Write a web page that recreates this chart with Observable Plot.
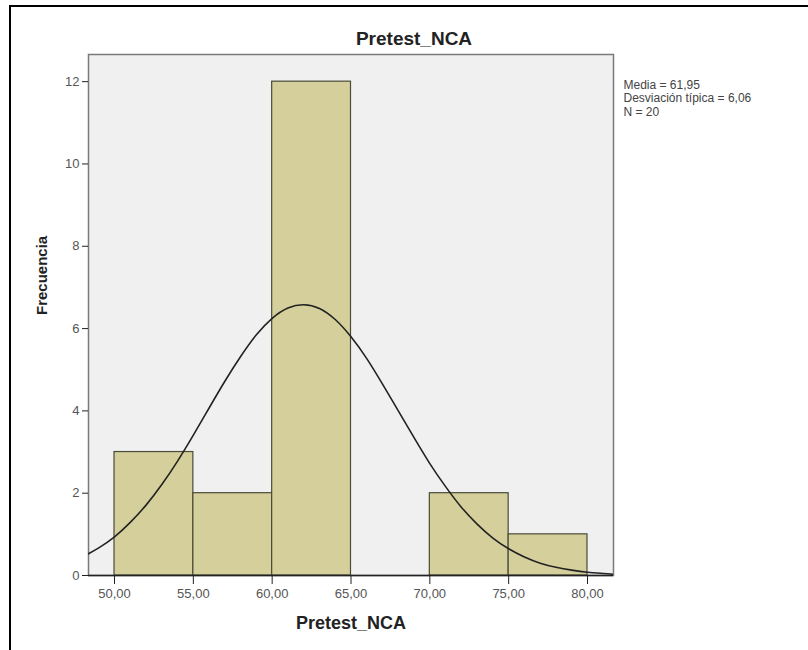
<!DOCTYPE html>
<html>
<head>
<meta charset="utf-8">
<script src="https://cdn.jsdelivr.net/npm/d3@7"></script>
<script src="https://cdn.jsdelivr.net/npm/@observablehq/plot@0.6"></script>
<style>
  html, body { margin: 0; padding: 0; background: #fff; overflow: hidden; }
  #wrap { position: relative; width: 808px; height: 650px; }
  #border { position: absolute; left: 9px; top: 5px; width: 900px; height: 900px;
            border-top: 2px solid #000; border-left: 2px solid #000; pointer-events: none; }
</style>
</head>
<body>
<div id="wrap"><div id="border"></div></div>
<script>
// Histogram bins (Pretest_NCA)
const binStart = [50, 55, 60, 65, 70, 75];
const binEnd   = [55, 60, 65, 70, 75, 80];
const freq     = [3, 2, 12, 0, 2, 1];

// Normal curve
const curveX = [48.35, 49, 50, 51, 52, 53, 54, 55, 56, 57, 58, 59, 60, 61, 62, 63, 64, 65, 66, 67, 68, 69, 70, 71, 72, 73, 74, 75, 76, 77, 78, 79, 80, 81, 81.65];
const curveY = [0.53, 0.67, 0.94, 1.29, 1.71, 2.21, 2.78, 3.41, 4.07, 4.72, 5.32, 5.85, 6.25, 6.50, 6.58, 6.49, 6.22, 5.80, 5.27, 4.65, 4.00, 3.35, 2.72, 2.16, 1.66, 1.25, 0.91, 0.65, 0.45, 0.30, 0.20, 0.13, 0.08, 0.05, 0.03];

const xTicks = [50, 55, 60, 65, 70, 75, 80];
const yTicks = [0, 2, 4, 6, 8, 10, 12];
const title = "Pretest_NCA";
const xLabel = "Pretest_NCA";
const yLabel = "Frecuencia";
const stats = ["Media = 61,95", "Desviación típica = 6,06", "N = 20"];

const bins = binStart.map((s, i) => ({x1: s, x2: binEnd[i], y: freq[i]})).filter(d => d.y > 0);
const curve = curveX.map((x, i) => ({x, y: curveY[i]}));

const font = "'Liberation Sans', Arial, sans-serif";

const chart = Plot.plot({
  width: 808,
  height: 650,
  marginLeft: 88,
  marginRight: 195,
  marginTop: 54,
  marginBottom: 75,
  style: {fontFamily: font, background: "transparent", overflow: "visible"},
  x: {domain: [48.35, 81.65]},
  y: {domain: [0, 12.66]},
  marks: [
    Plot.frame({fill: "#f0f0f0", stroke: "#7a7a7a", strokeWidth: 1.5}),
    Plot.rectY(bins, {x1: "x1", x2: "x2", y: "y", fill: "#d5d09b", stroke: "#4a4a3a", strokeWidth: 1.2}),
    Plot.line(curve, {x: "x", y: "y", stroke: "#222", strokeWidth: 1.6, curve: "natural", clip: true}),
    Plot.ruleY([0], {stroke: "#222", strokeWidth: 1.5}),
    Plot.axisX({ticks: xTicks, tickSize: 9, tickPadding: 4, label: null,
      tickFormat: d => d.toFixed(2).replace(".", ","), fontSize: 13, fill: "#555", stroke: "#222"}),
    Plot.axisY({ticks: yTicks, tickSize: 6, tickPadding: 3, label: null, fontSize: 13, fill: "#555", stroke: "#222"}),
    Plot.text([title], {frameAnchor: "top", text: d => d, dx: 63, dy: -16, fontSize: 19, fontWeight: "bold", fill: "#222", lineAnchor: "middle"}),
    Plot.text([xLabel], {frameAnchor: "bottom", text: d => d, dy: 48, fontSize: 18, fontWeight: "bold", fill: "#222", lineAnchor: "middle"}),
    Plot.text([yLabel], {frameAnchor: "left", text: d => d, dx: -46, rotate: -90, fontSize: 15, fontWeight: "bold", fill: "#222", lineAnchor: "middle"}),
    Plot.text([stats.join("\n")], {frameAnchor: "top-left", text: d => d, dx: 535, dy: 25,
      fontSize: 12, lineHeight: 1.12, fill: "#444", textAnchor: "start", lineAnchor: "top"})
  ]
});

document.getElementById("wrap").appendChild(chart);
</script>
</body>
</html>
